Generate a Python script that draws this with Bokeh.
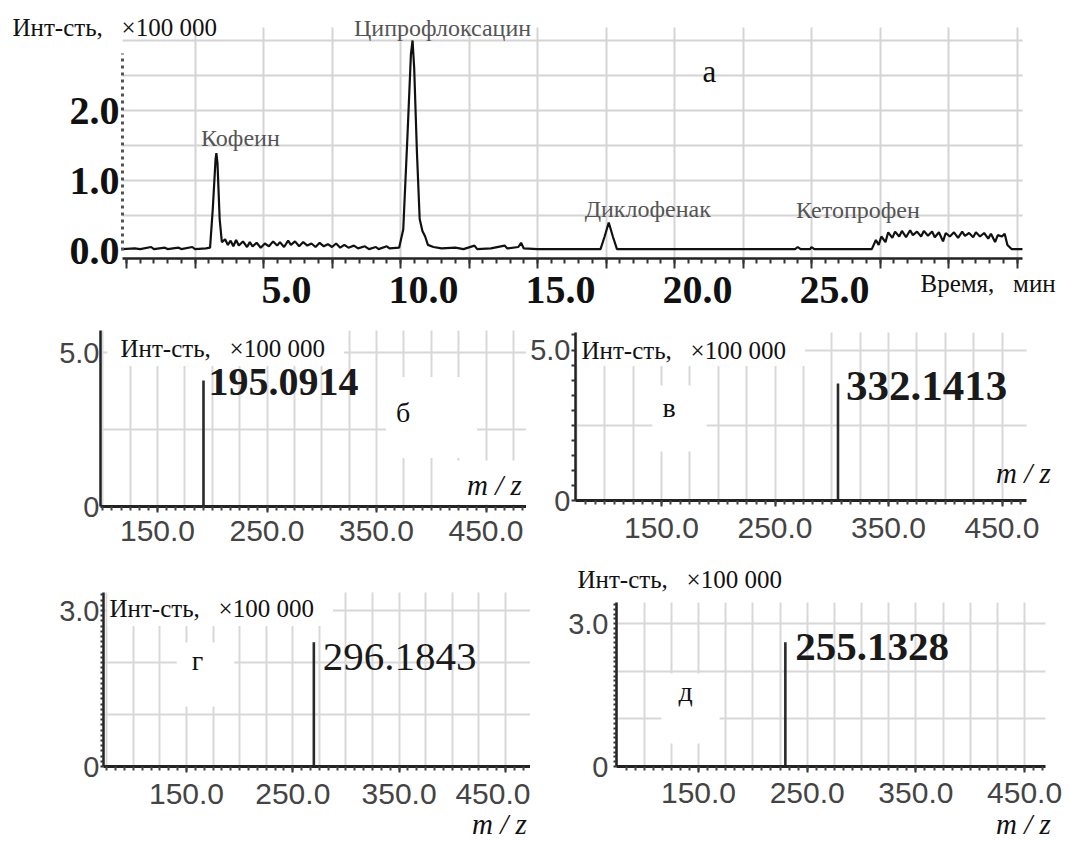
import numpy as np
from bokeh.plotting import figure
from bokeh.models import (Range1d, LinearAxis, FixedTicker, SingleIntervalTicker,
                          PrintfTickFormatter, CustomJSTickFormatter, Label, Grid)
from bokeh.layouts import column, row
from bokeh.embed import file_html
from bokeh.resources import INLINE

# ---------------- data: chromatogram (panel a) ----------------
chrom_time = [-0.15, 0.3, 0.5, 0.9, 1.0, 1.4, 1.5, 1.9, 2.0, 2.4, 2.5, 2.9, 3.05, 3.15, 3.25, 3.28,
              3.32, 3.4, 3.48, 3.6, 3.7, 3.8, 3.9, 4.0, 4.1, 4.25, 4.4, 4.5, 4.6, 4.75, 4.9, 5.05,
              5.2, 5.35, 5.5, 5.6, 5.75, 5.9, 6.0, 6.15, 6.3, 6.45, 6.6, 6.75, 6.9, 7.05, 7.2, 7.35,
              7.5, 7.65, 7.8, 7.95, 8.1, 8.3, 8.45, 8.7, 8.85, 9.1, 9.2, 9.5, 9.6, 9.95, 10.1, 10.25,
              10.38, 10.44, 10.5, 10.6, 10.7, 10.8, 10.9, 11.0, 11.2, 11.5, 12.0, 12.3, 12.7, 12.8,
              13.3, 13.8, 13.9, 14.3, 14.4, 14.5, 15.0, 16.0, 17.3, 17.45, 17.6, 17.75, 17.9, 20.0,
              24.4, 24.5, 24.6, 24.95, 25.0, 25.1, 27.2, 27.35, 27.45, 27.55, 27.7, 27.8, 27.95, 28.05,
              28.2, 28.3, 28.45, 28.6, 28.7, 28.85, 29.0, 29.1, 29.25, 29.4, 29.5, 29.65, 29.8, 29.9,
              30.05, 30.2, 30.35, 30.5, 30.6, 30.75, 30.9, 31.0, 31.15, 31.3, 31.45, 31.55, 31.7, 31.8,
              31.95, 32.05, 32.15, 32.3, 32.7]
chrom_int = [0.02, 0.03, 0.02, 0.05, 0.02, 0.04, 0.02, 0.04, 0.02, 0.05, 0.02, 0.03, 0.04, 0.6, 1.30, 1.39,
             1.25, 0.45, 0.12, 0.16, 0.08, 0.14, 0.06, 0.15, 0.07, 0.13, 0.05, 0.12, 0.06, 0.11, 0.04, 0.10,
             0.06, 0.13, 0.07, 0.12, 0.05, 0.14, 0.08, 0.13, 0.06, 0.12, 0.07, 0.10, 0.05, 0.11, 0.06, 0.09,
             0.05, 0.10, 0.04, 0.08, 0.04, 0.07, 0.03, 0.06, 0.02, 0.05, 0.02, 0.06, 0.03, 0.04, 0.3, 1.6,
             2.8, 3.0, 2.6, 1.4, 0.45, 0.28, 0.2, 0.08, 0.05, 0.03, 0.04, 0.02, 0.07, 0.02,
             0.03, 0.07, 0.03, 0.05, 0.11, 0.03, 0.02, 0.02, 0.02, 0.2, 0.4, 0.2, 0.02, 0.02,
             0.02, 0.05, 0.02, 0.02, 0.05, 0.02, 0.02, 0.15, 0.08, 0.2, 0.12, 0.26, 0.18, 0.27,
             0.2, 0.28, 0.19, 0.29, 0.22, 0.27, 0.2, 0.28, 0.21, 0.27, 0.19, 0.26, 0.13, 0.25,
             0.2, 0.26, 0.18, 0.27, 0.21, 0.25, 0.19, 0.26, 0.2, 0.25, 0.17, 0.24, 0.12, 0.22,
             0.2, 0.24, 0.08, 0.02, 0.02]
compound_names = ["Кофеин", "Ципрофлоксацин", "Диклофенак", "Кетопрофен"]
compound_rt = [3.28, 10.44, 17.6, 27.35]
compound_height = [1.39, 3.0, 0.4, 0.15]
chrom_xticks = [5.0, 10.0, 15.0, 20.0, 25.0]
chrom_yticks = [0.0, 1.0, 2.0]

# ---------------- data: mass spectra (panels б–д) ----------------
spec_letters = ["б", "в", "г", "д"]
spec_peak_mz = [192.0, 305.5, 269.8, 229.9]
spec_peak_int = [4.09, 3.89, 2.39, 2.61]
spec_peak_text = ["195.0914", "332.1413", "296.1843", "255.1328"]
spec_ytop_tick = [5.0, 5.0, 3.0, 3.0]
spec_xticks = [150.0, 250.0, 350.0, 450.0]

Y_TITLE = "Инт-сть, \u00a0\u00a0×100 000"
X_TITLE_A = "Время, \u00a0\u00a0мин"
MZ = "m / z"

SERIF = "Liberation Serif"
SANS = "Liberation Sans"
HAS_CB = "cross_bounds" in Grid.properties()


def make_fig(ox, oy, W, H, xmap, ymap):
    """Figure whose frame is the whole canvas; xmap/ymap turn canvas pixels into data."""
    p = figure(width=W, height=H,
               x_range=Range1d(xmap(ox), xmap(ox + W)),
               y_range=Range1d(ymap(oy + H), ymap(oy)),
               output_backend="svg", toolbar_location=None,
               min_border_left=0, min_border_right=0, min_border_top=0, min_border_bottom=0,
               outline_line_color=None, background_fill_color="white",
               border_fill_color="white")
    return p


def set_grid(p, xticks, yticks, xb, yb, color, width):
    if HAS_CB:
        xg, yg = p.xgrid[0], p.ygrid[0]
        xg.ticker = xticks
        yg.ticker = yticks
        xg.bounds = xb
        xg.cross_bounds = yb
        yg.bounds = yb
        yg.cross_bounds = xb
        for gr in (xg, yg):
            gr.grid_line_color = color
            gr.grid_line_width = width
    else:
        p.xgrid.visible = False
        p.ygrid.visible = False
        xt = [t for t in xticks.ticks if xb[0] <= t <= xb[1]]
        yt = [t for t in yticks.ticks if yb[0] <= t <= yb[1]]
        p.segment(x0=xt, y0=[yb[0]] * len(xt), x1=xt, y1=[yb[1]] * len(xt),
                  line_color=color, line_width=width, level="underlay")
        p.segment(x0=[xb[0]] * len(yt), y0=yt, x1=[xb[1]] * len(yt), y1=yt,
                  line_color=color, line_width=width, level="underlay")


def screen_label(p, ox, oy, H, px, py, text, **kw):
    kw.setdefault("text_baseline", "middle")
    p.add_layout(Label(x=px - ox, y=(oy + H) - py, x_units="screen", y_units="screen",
                       text=text, **kw))


def within(vals, lo, hi):
    return [float(v) for v in vals if lo <= v <= hi]


# ================= panel a (chromatogram) =================
ox, oy, W, H = 0, 0, 1070, 310
xm = lambda px: (px - 126.0) / 27.4
ym = lambda py: (250.0 - py) / 70.0
pa = make_fig(ox, oy, W, H, xm, ym)
xb = (xm(122), xm(1022))
yb = (ym(258), ym(27))

pa.line(chrom_time, chrom_int, line_color="#111111", line_width=2.2)

xa = pa.xaxis[0]
xa.fixed_location = ym(258)
xa.bounds = xb
xa.ticker = FixedTicker(ticks=within(np.arange(0, 32.6, 2.5), *xb),
                        minor_ticks=within(np.arange(0, 32.6, 0.5), *xb))
xa.formatter = CustomJSTickFormatter(code="return ''")
xa.major_label_text_font_size = "1px"
xa.axis_line_width = 2.5
xa.axis_line_color = "#222222"
xa.major_tick_out = 10
xa.major_tick_in = 0
xa.major_tick_line_width = 2
xa.major_tick_line_color = "#333333"
xa.minor_tick_out = 5
xa.minor_tick_in = 0
xa.minor_tick_line_width = 2
xa.minor_tick_line_color = "#333333"

pa.extra_x_ranges = {"lbl": Range1d(xm(ox) - 0.84, xm(ox + W) - 0.84)}
lab_axis = LinearAxis(x_range_name="lbl", ticker=FixedTicker(ticks=chrom_xticks),
                      formatter=PrintfTickFormatter(format="%.1f"), fixed_location=ym(258),
                      axis_line_color=None, major_tick_line_color=None, minor_tick_line_color=None,
                      major_tick_out=0, major_tick_in=0, minor_tick_out=0, minor_tick_in=0,
                      major_label_standoff=18, major_label_text_font=SERIF,
                      major_label_text_font_style="bold", major_label_text_font_size="40px",
                      major_label_text_color="#111111")
pa.add_layout(lab_axis, "below")

ya = pa.yaxis[0]
ya.fixed_location = xm(122)
ya.ticker = FixedTicker(ticks=chrom_yticks)
ya.formatter = PrintfTickFormatter(format="%.1f")
ya.bounds = (0, ym(53))
ya.axis_line_dash = "3 4"
ya.axis_line_width = 3
ya.axis_line_color = "#555555"
ya.major_tick_out = 0
ya.major_tick_in = 0
ya.minor_tick_out = 0
ya.minor_tick_in = 0
ya.major_label_standoff = 3
ya.major_label_text_font = SERIF
ya.major_label_text_font_style = "bold"
ya.major_label_text_font_size = "40px"
ya.major_label_text_color = "#111111"

set_grid(pa, FixedTicker(ticks=[float(v) for v in np.arange(2.5, 32.6, 2.5)]),
         FixedTicker(ticks=[float(v) for v in np.arange(0.5, 3.01, 0.5)]),
         xb, yb, "#d4d4d4", 2)

name_offsets = [(24, 15), (30, 13), (39, 14), (-18, 30)]
for nm, rt, h, (dx, dy) in zip(compound_names, compound_rt, compound_height, name_offsets):
    pa.add_layout(Label(x=rt, y=h, text=nm, x_offset=dx, y_offset=dy, text_align="center",
                        text_baseline="middle", text_font=SERIF, text_font_size="24px",
                        text_color="#555555"))

screen_label(pa, ox, oy, H, 12, 27, Y_TITLE, text_font=SERIF, text_font_size="25px",
             text_color="#111111")
screen_label(pa, ox, oy, H, 709, 71, "а", text_align="center", text_font=SERIF,
             text_font_size="31px", text_color="#111111")
screen_label(pa, ox, oy, H, 920, 283, X_TITLE_A, text_font=SERIF, text_font_size="25px",
             text_color="#111111")

# ================= panels б–д (mass spectra) =================
# canvas origin/size of each figure
fig_boxes = [(0, 310, 526, 250), (526, 310, 544, 250), (0, 560, 530, 280), (530, 560, 540, 280)]
# plot area (left, right, top, bottom) in canvas pixels
areas = [(100, 526, 330, 506), (575, 1026, 332, 500), (103, 530, 592, 766), (616, 1045, 602, 766)]
# (pixel of m/z 150, px per m/z unit, px per intensity unit)
scales = [(157, 1.095, 30.8), (661, 1.135, 30.1), (186, 1.063, 52.0), (698, 1.087, 47.6)]
ygrid_ticks = [[2.5, 5.0], [2.5, 5.0], [1.0, 2.0, 3.0], [1.0, 2.0, 3.0]]
y_minor_step = [None, 0.5, 0.1, 0.1]
x_standoff = [8, 11, 11, 10]
y_standoff = [1, 1, 1, 5]
val_offsets = [(5, -1), (8, -3), (9, -15), (10, -5)]
val_sizes = ["40px", "43px", "41px", "41px"]
val_styles = ["bold", "bold", "normal", "bold"]
ytitle_pos = [(107, 344, (13, 19, 12, 4)), (577, 344, (4, 19, 14, 2)),
              (107, 601, (2, 19, 18, 4)), (577, 579, None)]
letter_pos = [(431, 417, (10, 67, 20, 30)), (679, 418, (10, 31, 6, 29)),
              (205, 674, (15, 31, 2, 31)), (690, 708, (17, 27, 2, 37))]
mz_pos = [(485, 482, (26, 8, 8, 4)), (1023, 472, None), (499, 823, None), (1023, 823, None)]

panels = []
for i in range(4):
    ox, oy, W, H = fig_boxes[i]
    FL, FR, FT, FB = areas[i]
    t150, pxu, pyu = scales[i]
    xm = (lambda t150, pxu: (lambda px: 150.0 + (px - t150) / pxu))(t150, pxu)
    ym = (lambda FB, pyu: (lambda py: (FB - py) / pyu))(FB, pyu)
    p = make_fig(ox, oy, W, H, xm, ym)
    xb = (xm(FL), xm(FR))
    yb = (0.0, ym(FT))

    set_grid(p, SingleIntervalTicker(interval=25) if HAS_CB else
             FixedTicker(ticks=[float(v) for v in np.arange(25.0, 500.0, 25.0)]),
             FixedTicker(ticks=ygrid_ticks[i]), xb, yb, "#d8d8d8", 2)

    p.segment(x0=[spec_peak_mz[i]], y0=[0], x1=[spec_peak_mz[i]], y1=[spec_peak_int[i]],
              line_color="#2a2a2a", line_width=2.6)

    xax = p.xaxis[0]
    xax.fixed_location = 0.0
    xax.bounds = xb
    xax.ticker = FixedTicker(ticks=spec_xticks,
                             minor_ticks=within(np.arange(25.0, 500.0, 25.0 / 3), xb[0] + 1, xb[1] - 1))
    xax.formatter = PrintfTickFormatter(format="%.1f")
    xax.axis_line_width = 3
    xax.axis_line_color = "#222222"
    xax.major_tick_out = 6
    xax.major_tick_in = 0
    xax.major_tick_line_width = 2
    xax.major_tick_line_color = "#333333"
    xax.minor_tick_out = 4
    xax.minor_tick_in = 0
    xax.minor_tick_line_width = 2
    xax.minor_tick_line_color = "#444444"
    xax.major_label_standoff = x_standoff[i]
    xax.major_label_text_font = SANS
    xax.major_label_text_font_size = "30px"
    xax.major_label_text_color = "#444444"

    yax = p.yaxis[0]
    yax.fixed_location = xb[0]
    yax.bounds = yb
    st = y_minor_step[i]
    if st is None:
        yax.ticker = FixedTicker(ticks=[0.0, spec_ytop_tick[i]])
        yax.minor_tick_out = 0
    else:
        yax.ticker = FixedTicker(ticks=[0.0, spec_ytop_tick[i]],
                                 minor_ticks=within(np.arange(0, yb[1], st), 0, yb[1]))
        yax.minor_tick_out = 4 if st >= 0.5 else 3
        yax.minor_tick_line_width = 2
        yax.minor_tick_line_color = "#333333"
    yax.minor_tick_in = 0
    yax.formatter = CustomJSTickFormatter(code="return tick == 0 ? '0' : tick.toFixed(1)")
    yax.axis_line_width = 2.5
    yax.axis_line_color = "#222222"
    yax.major_tick_out = 0
    yax.major_tick_in = 0
    yax.major_label_standoff = y_standoff[i]
    yax.major_label_text_font = SANS
    yax.major_label_text_font_size = "29px"
    yax.major_label_text_color = "#444444"

    dx, dy = val_offsets[i]
    p.add_layout(Label(x=spec_peak_mz[i], y=spec_peak_int[i], text=spec_peak_text[i],
                       x_offset=dx, y_offset=dy, text_align="left", text_baseline="middle",
                       text_font=SERIF, text_font_size=val_sizes[i],
                       text_font_style=val_styles[i], text_color="#1a1a1a"))

    tx, ty, pad = ytitle_pos[i]
    kw = dict(text_font=SERIF, text_font_size="25px", text_color="#111111")
    if pad is not None:
        kw.update(background_fill_color="white", padding=pad)
    screen_label(p, ox, oy, H, tx, ty, Y_TITLE, **kw)

    lx, ly, pad = letter_pos[i]
    screen_label(p, ox, oy, H, lx, ly, spec_letters[i], text_align="center", text_font=SERIF,
                 text_font_size="28px", text_color="#111111",
                 background_fill_color="white", padding=pad)

    mx, my, pad = mz_pos[i]
    kw = dict(text_align="center", text_font=SERIF, text_font_size="29px",
              text_font_style="italic", text_color="#111111")
    if pad is not None:
        kw.update(background_fill_color="white", padding=pad)
    screen_label(p, ox, oy, H, mx, my, MZ, **kw)

    panels.append(p)

layout = column(pa, row(panels[0], panels[1]), row(panels[2], panels[3]))
open("out.html", "w").write(file_html(layout, INLINE))
